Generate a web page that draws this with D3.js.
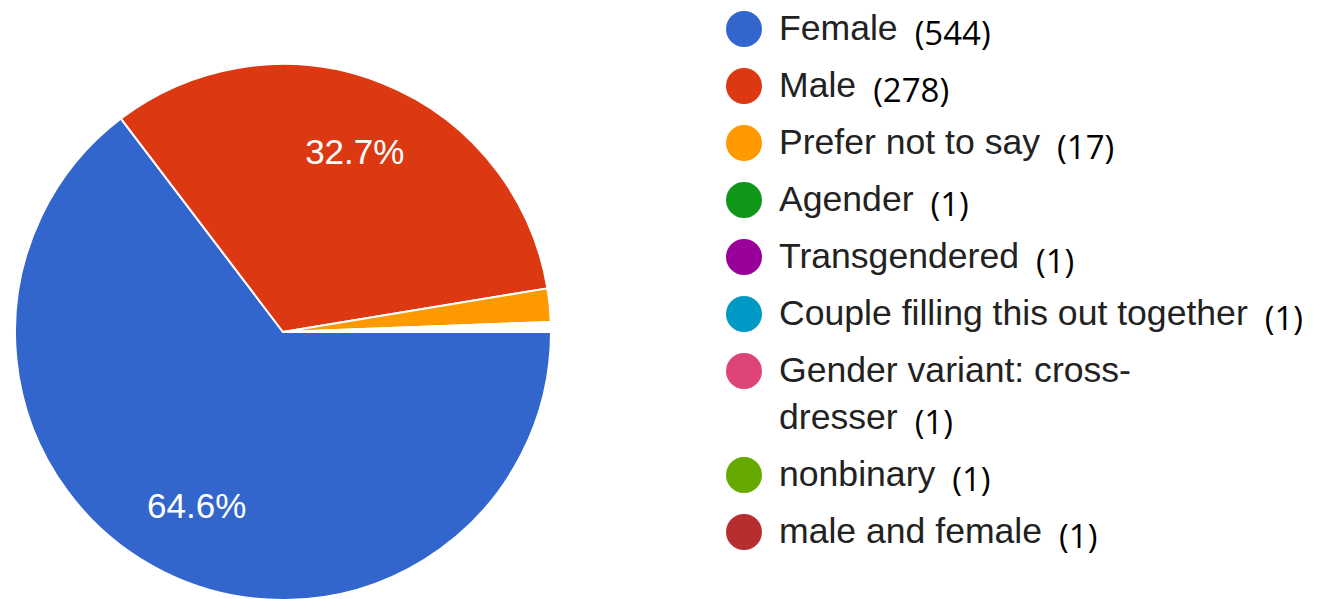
<!DOCTYPE html>
<html>
<head>
<meta charset="utf-8">
<script src="https://cdn.jsdelivr.net/npm/d3@7"></script>
<style>
  html, body { margin: 0; padding: 0; background: #fff; }
  svg { display: block; }
</style>
</head>
<body>
<svg id="chart" width="1323" height="599"></svg>
<script>
// Gender of respondents
const categories = [
  "Female", "Male", "Prefer not to say", "Agender", "Transgendered",
  "Couple filling this out together", "Gender variant: cross-dresser",
  "nonbinary", "male and female"
];
const shares = [64.6, 32.7, 2.0, 0.1, 0.1, 0.1, 0.1, 0.1, 0.1];   // percent of responses
const counts = [544, 278, 17, 1, 1, 1, 1, 1, 1];                  // responses
const colors = ["#3366cc", "#dc3912", "#ff9900", "#109618", "#990099",
                "#0099c6", "#dd4477", "#66aa00", "#b82e2e"];

const data = categories.map((name, i) => ({ name, share: shares[i], count: counts[i] }));

const svg = d3.select("#chart");
const cx = 283, cy = 332, radius = 268;

// Slices run clockwise from 3 o'clock, in the order given
const pie = d3.pie()
  .sort(null)
  .value(d => d.share)
  .startAngle(Math.PI / 2)
  .endAngle(Math.PI / 2 + 2 * Math.PI);

const arcs = pie(data);
const arc = d3.arc().innerRadius(0).outerRadius(radius);
const labelArc = d3.arc().innerRadius(radius * 0.724).outerRadius(radius * 0.724);

const color = d3.scaleOrdinal().domain(categories).range(colors);

const g = svg.append("g").attr("transform", `translate(${cx},${cy})`);

g.selectAll("path.slice")
  .data(arcs)
  .join("path")
  .attr("class", "slice")
  .attr("d", arc)
  .attr("fill", d => color(d.data.name))
  .attr("stroke", "#ffffff")
  .attr("stroke-width", 2)
  .attr("stroke-linejoin", "round");

// Percentage labels on the large slices
g.selectAll("text.pct")
  .data(arcs.filter(d => d.data.share >= 10))
  .join("text")
  .attr("class", "pct")
  .attr("transform", d => {
    const [x, y] = labelArc.centroid(d);
    return `translate(${x},${y})`;
  })
  .attr("text-anchor", "middle")
  .attr("dy", "0.358em")
  .attr("font-family", "'Liberation Sans', Arial, sans-serif")
  .attr("font-size", 35)
  .attr("fill", "#ffffff")
  .text(d => d.data.share.toFixed(1) + "%");

// Legend
const legendX = 744, legendY = 29, rowStep = 57, lineStep = 47;
const legend = svg.append("g");
let y = legendY;

data.forEach(d => {
  const row = legend.append("g");
  row.append("circle")
    .attr("cx", legendX)
    .attr("cy", y)
    .attr("r", 18)
    .attr("fill", color(d.name));

  const lines = d.name.split(/(?<=-)/);
  let lastText = null, lastBase = 0;
  lines.forEach((ln, j) => {
    const base = y + 11 + j * lineStep;
    lastText = row.append("text")
      .attr("x", legendX + 35)
      .attr("y", base)
      .attr("font-family", "'Liberation Sans', Arial, sans-serif")
      .attr("font-size", 35.6)
      .attr("fill", "#222222")
      .text(ln);
    lastBase = base;
  });

  const end = legendX + 35 + lastText.node().getComputedTextLength();
  row.append("text")
    .attr("x", end + 17)
    .attr("y", lastBase + 5)
    .attr("font-family", "'Open Sans', sans-serif")
    .attr("font-size", 33)
    .attr("fill", "#000000")
    .text(`(${d.count})`);

  y += rowStep + (lines.length - 1) * lineStep;
});
</script>
</body>
</html>
